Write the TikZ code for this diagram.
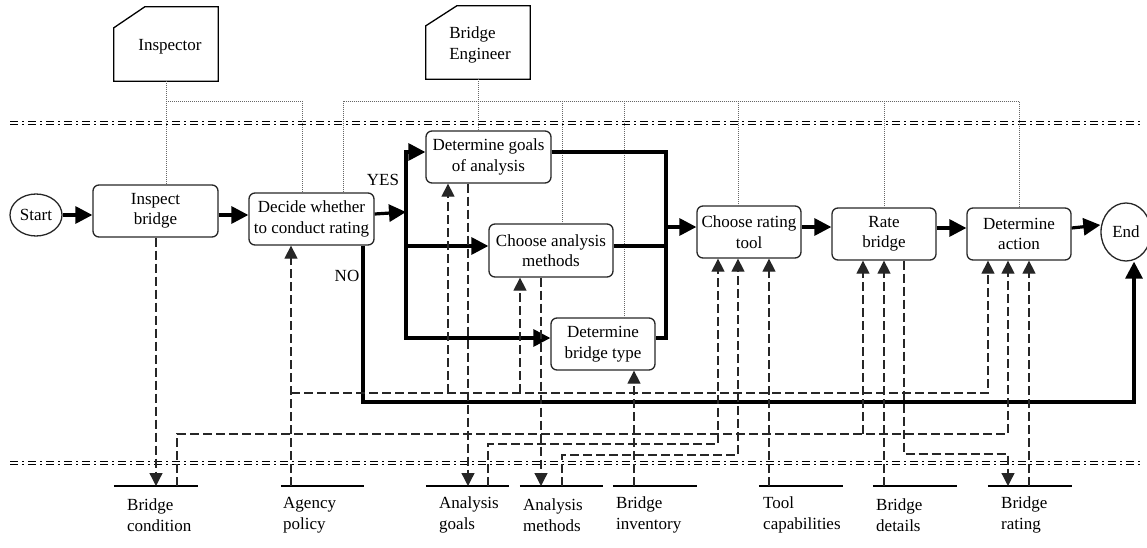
\documentclass[tikz,border=0pt]{standalone}
\usepackage{fontspec}
\setmainfont{Liberation Serif}
\usetikzlibrary{arrows.meta,calc,shapes.geometric}
\begin{document}
\begin{tikzpicture}[x=1pt,y=-1pt,
  every node/.style={font=\fontsize{17}{20.5}\selectfont, inner sep=0pt},
  box/.style={draw=black!85, line width=1.3pt, rounded corners=6pt, align=center},
  term/.style={draw=black!85, line width=1.3pt, ellipse},
  flow/.style={line width=3.2pt, -{Triangle[length=17pt,width=17pt]}},
  flowline/.style={line width=3.2pt},
  data/.style={line width=1.3pt, dash pattern=on 9pt off 4pt, draw=black!85},
  datarrow/.style={data, -{Triangle[length=13pt,width=13pt]}},
  role/.style={draw=gray!80!black, line width=0.9pt, dash pattern=on 1pt off 1pt},
  lane/.style={line width=1.5pt, double distance=1.5pt, dash pattern=on 8pt off 4pt on 2pt off 4pt},
  store/.style={minimum width=84pt, minimum height=0pt},
  storelabel/.style={anchor=west, align=left},
  actor/.style={minimum width=104pt, minimum height=74pt},
]
\useasboundingbox (0,0) rectangle (1147,548);

% swimlane separators
\coordinate (l1a) at (10,123); \coordinate (l1b) at (1142,123);
\coordinate (l2a) at (10,463); \coordinate (l2b) at (1142,463);
\draw[lane] (l1a) -- (l1b);
\draw[lane] (l2a) -- (l2b);

% actors
\node[actor] (inspector) at (166,44) {};
\draw[line width=1.3pt] (inspector.south west) -- ([yshift=-21pt]inspector.north west) -- ([xshift=31pt]inspector.north west) -- (inspector.north east) -- (inspector.south east) -- cycle;
\node (inspectortext) at (170,47) {Inspector};
\node[actor, minimum height=73pt] (engineer) at (478,42.5) {};
\draw[line width=1.3pt] (engineer.south west) -- ([yshift=-20pt]engineer.north west) -- ([xshift=31pt]engineer.north west) -- (engineer.north east) -- (engineer.south east) -- cycle;
\node[align=left] (engineertext) at (480,45) {Bridge\\Engineer};

% process nodes
\node[term, minimum width=52pt, minimum height=42pt] (start) at (36,215) {Start};
\node[box, minimum width=125pt, minimum height=52pt] (inspect) at (155.5,211) {Inspect\\bridge};
\node[box, minimum width=125pt, minimum height=52pt] (decide) at (311.5,219) {Decide whether\\to conduct rating};
\node[box, minimum width=125pt, minimum height=52pt] (goals) at (488.5,157) {Determine goals\\of analysis};
\node[box, minimum width=124pt, minimum height=53pt] (methods) at (551,250.5) {Choose analysis\\methods};
\node[box, minimum width=104pt, minimum height=52pt] (btype) at (603,344) {Determine\\bridge type};
\node[box, minimum width=104pt, minimum height=52pt] (tool) at (749,232) {Choose rating\\tool};
\node[box, minimum width=104pt, minimum height=52pt] (rate) at (884,234) {Rate\\bridge};
\node[box, minimum width=104pt, minimum height=52pt] (action) at (1019,234) {Determine\\action};
\node[term, minimum width=50pt, minimum height=58pt] (end) at (1126,232) {End};

% labels
\node (yes) at (383,180) {YES};
\node (no) at (347,276) {NO};

% data stores
\foreach \n/\x/\w in {bcond/156/84, agency/322.5/83, agoals/467.5/83, ameth/561.5/83, binv/655/84, toolc/801/84, bdet/915/84, brate/1030/84}{
  \node[store, minimum width=\w pt] (\n) at (\x,486) {};
  \draw[line width=1.2pt] (\n.west) -- (\n.east);
}
\node[storelabel] (bcondl) at (127,515) {Bridge\\condition};
\node[storelabel] (agencyl) at (283,515) {Agency\\policy};
\node[storelabel] (agoalsl) at (439,515) {Analysis\\goals};
\node[storelabel] (amethl) at (523,515) {Analysis\\methods};
\node[storelabel] (binvl) at (616,515) {Bridge\\inventory};
\node[storelabel] (toolcl) at (763,515) {Tool\\capabilities};
\node[storelabel] (bdetl) at (876,515) {Bridge\\details};
\node[storelabel] (bratel) at (1001,515) {Bridge\\rating};

% role (dotted) lines
\coordinate (r1) at (302,101);
\coordinate (r2) at (343,101);
\coordinate (r3) at (1019,101);
\draw[role] (inspector.south) -- (inspector.south |- inspect.north);
\draw[role] (inspector.south |- r1) -- (r1) -- (r1 |- decide.north);
\draw[role] (engineer.south) -- (engineer.south |- goals.north);
\draw[role] (r2 |- decide.north) -- (r2) -- (r3) -- (r3 |- action.north);
\coordinate (rm) at (562,101);
\coordinate (rb) at (624,101);
\coordinate (rt) at (738,101);
\coordinate (rr) at (884,101);
\draw[role] (rm) -- (rm |- methods.north);
\draw[role] (rb) -- (rb |- btype.north);
\draw[role] (rt) -- (rt |- tool.north);
\draw[role] (rr) -- (rr |- rate.north);

% main flow
\draw[flow] (start.east) -- (start.east -| inspect.west);
\draw[flow] ([yshift=-4pt]inspect.east) -- ([yshift=-4pt]inspect.east -| decide.west);
\coordinate (ysplit) at (406,212);
\coordinate (ytop) at (406,152);
\coordinate (ymid) at (406,246);
\coordinate (ybot) at (406,338);
\draw[flow] ([yshift=5pt]decide.east) -- (ysplit);
\draw[flow] (ybot) -- (ytop) -- (ytop -| goals.west);
\draw[flow] (ytop) -- (ybot) -- (ybot -| btype.west);
\draw[flow] (ymid) -- (ymid -| methods.west);
\coordinate (mtop) at (666,152);
\coordinate (mmid) at (666,246);
\coordinate (mout) at (666,227);
\coordinate (mbot) at (666,338);
\draw[flowline] (goals.east |- mtop) -- (mtop) -- (mbot) -- (btype.east |- mbot);
\draw[flowline] (methods.east |- mmid) -- (mmid);
\draw[flow] (mout) -- (mout -| tool.west);
\draw[flow] ([yshift=5pt]tool.east) -- ([yshift=5pt]tool.east -| rate.west);
\draw[flow] ([yshift=6pt]rate.east) -- ([yshift=6pt]rate.east -| action.west);
\draw[flow] ([yshift=6pt]action.east) -- ([yshift=7pt]end.west);
\coordinate (no1) at (363,402);
\coordinate (no2) at (1134,402);
\draw[flow] (no1 |- decide.south) -- (no1) -- (no2) -- (no2 |- end.south);

% data flows
\coordinate (bc-in) at (156,486);
\coordinate (bc-out) at (177,486);
\coordinate (ap-out) at (291,486);
\coordinate (ag-in) at (468,486);
\coordinate (ag-out) at (488,486);
\coordinate (am-in) at (541,486);
\coordinate (am-out) at (562,486);
\coordinate (bi-out) at (634,486);
\coordinate (tc-out) at (769,486);
\coordinate (bd-out) at (884,486);
\coordinate (br-in) at (1008,486);
\coordinate (br-out) at (1029,486);

\draw[datarrow] (bc-in |- inspect.south) -- (bc-in);
\draw[datarrow] (ap-out) -- (ap-out |- decide.south);
\coordinate (apj) at (291,393);
\coordinate (apr) at (988,393);
\coordinate (apg) at (448,393);
\coordinate (apm) at (520,393);
\draw[datarrow] (apj) -- (apr) -- (apr |- action.south);
\draw[datarrow] (apg) -- (apg |- goals.south);
\draw[datarrow] (apm) -- (apm |- methods.south);
\coordinate (bcc1) at (177,434);
\coordinate (bcc2) at (1008,434);
\coordinate (bcr) at (863,434);
\draw[datarrow] (bc-out) -- (bcc1) -- (bcc2) -- (bcc2 |- action.south);
\draw[datarrow] (bcr) -- (bcr |- rate.south);
\draw[datarrow] (ag-in |- goals.south) -- (ag-in);
\coordinate (agc) at (718,444);
\draw[datarrow] (ag-out) -- (ag-out |- agc) -- (agc) -- (agc |- tool.south);
\draw[datarrow] (am-in |- methods.south) -- (am-in);
\coordinate (amc) at (738,455);
\draw[datarrow] (am-out) -- (am-out |- amc) -- (amc) -- (amc |- tool.south);
\draw[datarrow] (bi-out) -- (bi-out |- btype.south);
\draw[datarrow] (tc-out) -- (tc-out |- tool.south);
\draw[datarrow] (bd-out) -- (bd-out |- rate.south);
\coordinate (rbc) at (904,454);
\draw[datarrow] (rbc |- rate.south) -- (rbc) -- (rbc -| br-in) -- (br-in);
\draw[datarrow] (br-out) -- (br-out |- action.south);
\end{tikzpicture}
\end{document}
